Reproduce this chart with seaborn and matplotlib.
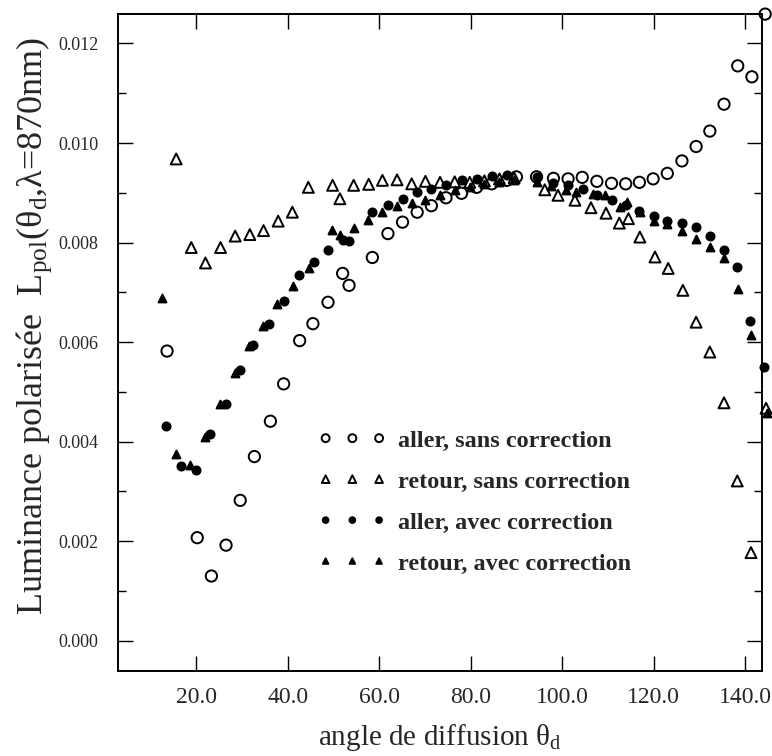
import numpy as np
import pandas as pd
import seaborn as sns
import matplotlib.pyplot as plt
from matplotlib.ticker import MultipleLocator, FormatStrFormatter

# aller, sans correction (open circles)
ang_as = [13.6, 20.2, 23.3, 26.5, 29.6, 32.7, 36.2, 39.1, 42.6, 45.5, 48.8, 52.0, 53.4,
          58.5, 61.9, 65.1, 68.3, 71.4, 74.6, 78.0, 81.3, 84.6, 87.9, 90.0, 94.4, 98.1,
          101.3, 104.4, 107.6, 110.8, 113.9, 116.9, 119.9, 123.0, 126.2, 129.3, 132.3,
          135.4, 138.4, 141.5, 144.4]
val_as = [0.00582, 0.00207, 0.00130, 0.00192, 0.00282, 0.00370, 0.00441, 0.00516, 0.00603,
          0.00637, 0.00680, 0.00738, 0.00714, 0.00770, 0.00818, 0.00841, 0.00861, 0.00874,
          0.00890, 0.00899, 0.00911, 0.00918, 0.00925, 0.00932, 0.00932, 0.00929, 0.00928,
          0.00931, 0.00923, 0.00919, 0.00918, 0.00921, 0.00928, 0.00939, 0.00964, 0.00993,
          0.01024, 0.01078, 0.01155, 0.01133, 0.01259]

# retour, sans correction (open triangles)
ang_rs = [15.6, 18.9, 22.0, 25.3, 28.5, 31.7, 34.7, 37.9, 41.0, 44.5, 49.8, 51.4, 54.4,
          57.7, 60.7, 63.9, 67.1, 70.1, 73.3, 76.5, 79.8, 83.0, 86.3, 89.5, 96.2, 99.1,
          102.8, 106.3, 109.6, 112.5, 114.5, 117.0, 120.3, 123.2, 126.4, 129.3, 132.3,
          135.4, 138.3, 141.3, 144.6]
val_rs = [0.00968, 0.00790, 0.00759, 0.00790, 0.00813, 0.00816, 0.00824, 0.00843, 0.00861,
          0.00911, 0.00915, 0.00888, 0.00915, 0.00917, 0.00925, 0.00926, 0.00918, 0.00923,
          0.00921, 0.00922, 0.00921, 0.00924, 0.00928, 0.00930, 0.00906, 0.00895, 0.00885,
          0.00870, 0.00859, 0.00839, 0.00848, 0.00811, 0.00771, 0.00748, 0.00704, 0.00640,
          0.00580, 0.00478, 0.00321, 0.00177, 0.00467]

# aller, avec correction (filled circles)
ang_aa = [13.4, 16.6, 20.0, 23.1, 26.4, 29.5, 32.5, 35.9, 39.1, 42.5, 45.7, 48.9, 52.0,
          53.4, 58.5, 61.9, 65.2, 68.2, 71.4, 74.7, 78.0, 81.3, 84.6, 87.9, 94.4, 98.1,
          101.3, 104.5, 107.6, 110.8, 113.9, 116.9, 120.1, 123.0, 126.2, 129.3, 132.3,
          135.3, 138.2, 141.1, 144.2]
val_aa = [0.00431, 0.00351, 0.00344, 0.00415, 0.00475, 0.00544, 0.00594, 0.00637, 0.00682,
          0.00734, 0.00761, 0.00786, 0.00806, 0.00803, 0.00861, 0.00876, 0.00888, 0.00901,
          0.00908, 0.00915, 0.00925, 0.00928, 0.00933, 0.00935, 0.00932, 0.00919, 0.00915,
          0.00908, 0.00896, 0.00885, 0.00876, 0.00864, 0.00854, 0.00844, 0.00840, 0.00832,
          0.00814, 0.00786, 0.00751, 0.00642, 0.00549]

# retour, avec correction (filled triangles)
ang_ra = [12.5, 15.5, 18.7, 22.0, 25.1, 28.4, 31.5, 34.6, 37.7, 41.1, 44.6, 49.7, 51.4,
          54.4, 57.6, 60.7, 63.9, 67.1, 70.1, 73.3, 76.5, 79.8, 83.0, 86.2, 89.5, 94.4,
          97.6, 100.8, 103.0, 106.8, 109.4, 112.7, 114.1, 117.0, 120.1, 123.0, 126.2,
          129.3, 132.3, 135.4, 138.5, 141.3, 144.7]
val_ra = [0.00688, 0.00375, 0.00353, 0.00409, 0.00475, 0.00538, 0.00592, 0.00632, 0.00677,
          0.00712, 0.00748, 0.00826, 0.00816, 0.00829, 0.00846, 0.00861, 0.00873, 0.00879,
          0.00886, 0.00895, 0.00905, 0.00912, 0.00918, 0.00922, 0.00925, 0.00921, 0.00914,
          0.00905, 0.00901, 0.00898, 0.00895, 0.00871, 0.00881, 0.00862, 0.00844, 0.00838,
          0.00824, 0.00808, 0.00792, 0.00768, 0.00707, 0.00614, 0.00457]

labels = ["aller, sans correction", "retour, sans correction",
          "aller, avec correction", "retour, avec correction"]

sns.set_style("ticks")
plt.rcParams["font.family"] = ["Liberation Serif", "DejaVu Serif"]
plt.rcParams["mathtext.fontset"] = "custom"
plt.rcParams["mathtext.rm"] = "Liberation Serif"
plt.rcParams["mathtext.it"] = "Liberation Serif:italic"

fig = plt.figure(figsize=(7.72, 7.56), dpi=100)
ax = fig.add_axes([0.153, 0.113, 0.834, 0.869])

# (x, y, marker, face, size, label)
series = [
    (ang_as, val_as, "o", "none", 66, labels[0]),
    (ang_rs, val_rs, "^", "none", 62, labels[1]),
    (ang_aa, val_aa, "o", "black", 34, labels[2]),
    (ang_ra, val_ra, "^", "black", 32, labels[3]),
]
for x, y, m, fc, s, lab in series:
    df = pd.DataFrame({"angle": x, "lum": y})
    sns.scatterplot(data=df, x="angle", y="lum", marker=m, s=s, ax=ax,
                    facecolor=fc, edgecolor="black", linewidth=1.4,
                    label=lab, clip_on=False, zorder=3)

ax.set_xlim(2.9, 143.7)
ax.set_ylim(-0.0006, 0.0126)
ax.xaxis.set_major_formatter(FormatStrFormatter("%.1f"))
ax.yaxis.set_major_locator(MultipleLocator(0.002))
ax.yaxis.set_minor_locator(MultipleLocator(0.001))
ax.yaxis.set_major_formatter(FormatStrFormatter("%.3f"))
ax.set_xticks([20, 40, 60, 80, 100, 120, 140])

ax.tick_params(which="both", direction="in", top=True, right=True, width=1.0, color="black")
ax.tick_params(which="major", length=11)
ax.tick_params(which="minor", length=6)
ax.tick_params(axis="x", labelsize=17, pad=12)
ax.tick_params(axis="y", labelsize=13, pad=14)
for sp in ax.spines.values():
    sp.set_linewidth(1.4)
    sp.set_color("black")

ax.set_xlabel("angle de diffusion θ$_{\\mathrm{d}}$", fontsize=21, labelpad=10)
ax.set_ylabel("Luminance polarisée  L$_{\\mathrm{pol}}$(θ$_{\\mathrm{d}}$,λ=870nm)",
              fontsize=26)
ax.yaxis.set_label_coords(-0.100, 0.525)

ax.legend(loc="upper left", bbox_to_anchor=(0.277, 0.400), frameon=False,
          scatterpoints=3, scatteryoffsets=[0.5], markerscale=0.7,
          handlelength=2.8, handletextpad=0.47, labelspacing=0.78,
          borderpad=0.4, prop={"weight": "bold", "size": 17.5})

fig.savefig("out.png", dpi=100)
